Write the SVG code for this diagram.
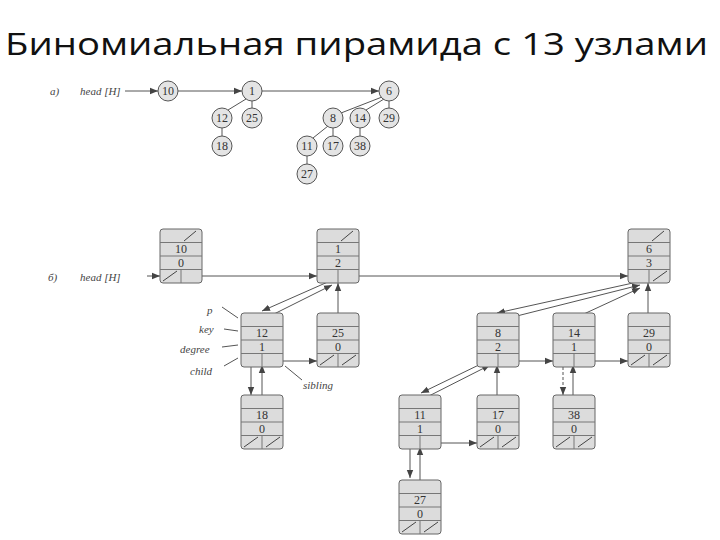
<svg xmlns="http://www.w3.org/2000/svg" xmlns:xlink="http://www.w3.org/1999/xlink" width="720" height="540" viewBox="0 0 720 540">
<style>
.c{fill:#e4e4e4;stroke:#555;stroke-width:1}
.t{font-family:"Liberation Serif",serif;font-size:12px;fill:#333;text-anchor:middle}
.i{font-family:"Liberation Serif",serif;font-size:11px;font-style:italic;fill:#444}
.l{stroke:#555;stroke-width:1;fill:none}
.a{stroke:#555;stroke-width:1;fill:none;marker-end:url(#ar)}
.s{stroke:#444;stroke-width:1}
</style>
<defs>
<marker id="ar" viewBox="0 0 10 10" refX="10" refY="5" markerWidth="8" markerHeight="8" orient="auto" markerUnits="userSpaceOnUse"><path d="M0,1 L10,5 L0,9 z" fill="#444"/></marker>
<g id="box"><rect x="0" y="0" width="42" height="54" rx="3" fill="#dcdcdc" stroke="#666"/><path d="M0,13.5H42M0,27H42M0,40.5H42M21,40.5V54" stroke="#777" fill="none"/></g>
<path id="np" d="M24,12L36,2" stroke="#444"/>
<path id="nc" d="M3,52L17,42" stroke="#444"/>
<path id="ns" d="M25,52L39,42" stroke="#444"/>
</defs>
<rect width="720" height="540" fill="#fff"/>
<text x="5" y="55" font-family="'Open Sans','Liberation Sans',sans-serif" font-size="31" fill="#111" textLength="703" lengthAdjust="spacingAndGlyphs">Биномиальная пирамида с 13 узлами</text>

<g id="parta">
<text x="50" y="95" class="i" font-style="normal">a)</text>
<text x="80" y="95" class="i">head [H]</text>
<g id="a-edges">
<path class="a" d="M125,91H158"/>
<path class="a" d="M178,91H242"/>
<path class="a" d="M262,91H379"/>
<path class="l" d="M246,99L228,110M252,101V108M222,128V136M382,97L341,113M384,99L366,110M389,101V108M328,126L313,138M333,128V136M360,128V136M307,156V164"/>
</g>
<g class="c">
<circle cx="168" cy="91" r="10"/><circle cx="252" cy="91" r="10"/><circle cx="389" cy="91" r="10"/>
<circle cx="222" cy="118" r="10"/><circle cx="252" cy="118" r="10"/><circle cx="222" cy="146" r="10"/>
<circle cx="333" cy="118" r="10"/><circle cx="360" cy="118" r="10"/><circle cx="389" cy="118" r="10"/>
<circle cx="307" cy="146" r="10"/><circle cx="333" cy="146" r="10"/><circle cx="360" cy="146" r="10"/>
<circle cx="307" cy="174" r="10"/>
</g>
<g class="t">
<text x="168" y="95">10</text><text x="252" y="95">1</text><text x="389" y="95">6</text>
<text x="222" y="122">12</text><text x="252" y="122">25</text><text x="222" y="150">18</text>
<text x="333" y="122">8</text><text x="360" y="122">14</text><text x="389" y="122">29</text>
<text x="307" y="150">11</text><text x="333" y="150">17</text><text x="360" y="150">38</text>
<text x="307" y="178">27</text>
</g>
</g>

<text x="48" y="281" class="i" font-style="normal">б)</text>
<text x="80" y="281" class="i">head [H]</text>

<g id="connectors">
<path class="a" d="M147,276H160"/>
<path class="a" d="M190,276H317"/>
<path class="a" d="M348,276H628"/>
<path class="a" d="M330,281L262,311"/>
<path class="a" d="M262,320L332,285"/>
<path class="a" d="M338,313V283"/>
<path class="a" d="M272,361H317"/>
<path class="a" d="M251,361V395"/>
<path class="a" d="M262,395V365"/>
<path class="a" d="M642,281L497,313"/>
<path class="a" d="M497,321L640,285"/>
<path class="a" d="M573,319L640,288"/>
<path class="a" d="M648,313V283"/>
<path class="a" d="M508,361H553"/>
<path class="a" d="M584,361H628"/>
<path class="a" d="M487,361L421,393"/>
<path class="a" d="M421,400L490,365"/>
<path class="a" d="M497,395V365"/>
<path class="a" d="M563,367V395" stroke-dasharray="3,2"/>
<path class="a" d="M573,395V365"/>
<path class="a" d="M430,443H477"/>
<path class="a" d="M410,444V478"/>
<path class="a" d="M420,480V447"/>
<path class="l" d="M222,307L238,318M224,329L238,331M222,347L238,345M224,366L238,358M285,366L302,380"/>
</g>
<text x="207" y="314" class="i">p</text>
<text x="199" y="333" class="i">key</text>
<text x="180" y="353" class="i">degree</text>
<text x="190" y="375" class="i">child</text>
<text x="303" y="389" class="i">sibling</text>

<g id="n10" transform="translate(160,229)"><use href="#box"/><use href="#np"/><use href="#nc"/><text class="t" x="21" y="24">10</text><text class="t" x="21" y="37.5">0</text></g>
<g id="n1" transform="translate(317,229)"><use href="#box"/><use href="#np"/><text class="t" x="21" y="24">1</text><text class="t" x="21" y="37.5">2</text></g>
<g id="n6" transform="translate(628,229)"><use href="#box"/><use href="#np"/><use href="#ns"/><text class="t" x="21" y="24">6</text><text class="t" x="21" y="37.5">3</text></g>
<g id="n12" transform="translate(241,313)"><use href="#box"/><text class="t" x="21" y="24">12</text><text class="t" x="21" y="37.5">1</text></g>
<g id="n25" transform="translate(317,313)"><use href="#box"/><use href="#nc"/><use href="#ns"/><text class="t" x="21" y="24">25</text><text class="t" x="21" y="37.5">0</text></g>
<g id="n8" transform="translate(477,313)"><use href="#box"/><text class="t" x="21" y="24">8</text><text class="t" x="21" y="37.5">2</text></g>
<g id="n14" transform="translate(553,313)"><use href="#box"/><text class="t" x="21" y="24">14</text><text class="t" x="21" y="37.5">1</text></g>
<g id="n29" transform="translate(628,313)"><use href="#box"/><use href="#nc"/><use href="#ns"/><text class="t" x="21" y="24">29</text><text class="t" x="21" y="37.5">0</text></g>
<g id="n18" transform="translate(241,395)"><use href="#box"/><use href="#nc"/><use href="#ns"/><text class="t" x="21" y="24">18</text><text class="t" x="21" y="37.5">0</text></g>
<g id="n11" transform="translate(399,395)"><use href="#box"/><text class="t" x="21" y="24">11</text><text class="t" x="21" y="37.5">1</text></g>
<g id="n17" transform="translate(477,395)"><use href="#box"/><use href="#nc"/><use href="#ns"/><text class="t" x="21" y="24">17</text><text class="t" x="21" y="37.5">0</text></g>
<g id="n38" transform="translate(553,395)"><use href="#box"/><use href="#nc"/><use href="#ns"/><text class="t" x="21" y="24">38</text><text class="t" x="21" y="37.5">0</text></g>
<g id="n27" transform="translate(399,480)"><use href="#box"/><use href="#nc"/><use href="#ns"/><text class="t" x="21" y="24">27</text><text class="t" x="21" y="37.5">0</text></g>
</svg>
